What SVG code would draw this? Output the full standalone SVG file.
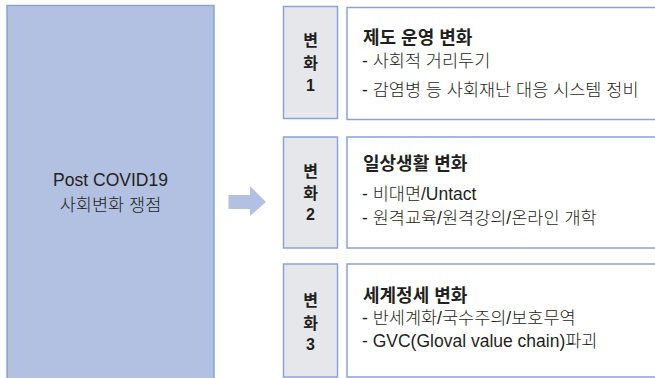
<svg xmlns="http://www.w3.org/2000/svg" width="655" height="378" viewBox="0 0 655 378">
<style>
.main{fill:#b2c0e1;stroke:#8ba2d8;stroke-width:1.5}
.lab{fill:#e6e7ea;stroke:#8ba2d8;stroke-width:1.5}
.box{fill:#ffffff;stroke:#8ba2d8;stroke-width:1.5}
text{font-family:"Liberation Sans","Noto Sans CJK KR",sans-serif;fill:#231f20}
.lt{font-size:16px;font-weight:bold;text-anchor:middle}
.tt{font-size:18px;font-weight:bold}
.bt{font-size:17.5px;font-weight:300}
.ct{font-size:17.5px;font-weight:300;text-anchor:middle}
</style>
<rect width="655" height="378" fill="#ffffff"/>
<g id="main">
<rect class="main" x="7" y="5.5" width="207" height="380"/>
<text class="ct" x="110.5" y="186">Post COVID19</text>
<text class="ct" x="110.5" y="211">사회변화 쟁점</text>
</g>
<g id="connectors">
<polygon points="228.5,195 250,195 250,186 266,202 250,216 250,209 228.5,209" fill="#b2c0e1"/>
</g>
<g id="label1">
<rect class="lab" x="283.5" y="6.5" width="54" height="112"/>
<text class="lt" x="310.5" y="46">변</text>
<text class="lt" x="310.5" y="69">화</text>
<text class="lt" x="310.5" y="91">1</text>
</g>
<g id="box1">
<rect class="box" x="347" y="7.5" width="320" height="112"/>
<text class="tt" x="363" y="44">제도 운영 변화</text>
<text class="bt" x="362" y="67">- 사회적 거리두기</text>
<text class="bt" x="362" y="96">- 감염병 등 사회재난 대응 시스템 정비</text>
</g>
<g id="label2">
<rect class="lab" x="283.5" y="137" width="54" height="111"/>
<text class="lt" x="310.5" y="177">변</text>
<text class="lt" x="310.5" y="199">화</text>
<text class="lt" x="310.5" y="220">2</text>
</g>
<g id="box2">
<rect class="box" x="347" y="137" width="320" height="111"/>
<text class="tt" x="363" y="170">일상생활 변화</text>
<text class="bt" x="362" y="200">- 비대면/Untact</text>
<text class="bt" x="362" y="224">- 원격교육/원격강의/온라인 개학</text>
</g>
<g id="label3">
<rect class="lab" x="283.5" y="264" width="54" height="113"/>
<text class="lt" x="310.5" y="306">변</text>
<text class="lt" x="310.5" y="329">화</text>
<text class="lt" x="310.5" y="350">3</text>
</g>
<g id="box3">
<rect class="box" x="347" y="264" width="320" height="113"/>
<text class="tt" x="363" y="302">세계정세 변화</text>
<text class="bt" x="362" y="324">- 반세계화/국수주의/보호무역</text>
<text class="bt" x="362" y="347">- GVC(Gloval value chain)파괴</text>
</g>
</svg>
